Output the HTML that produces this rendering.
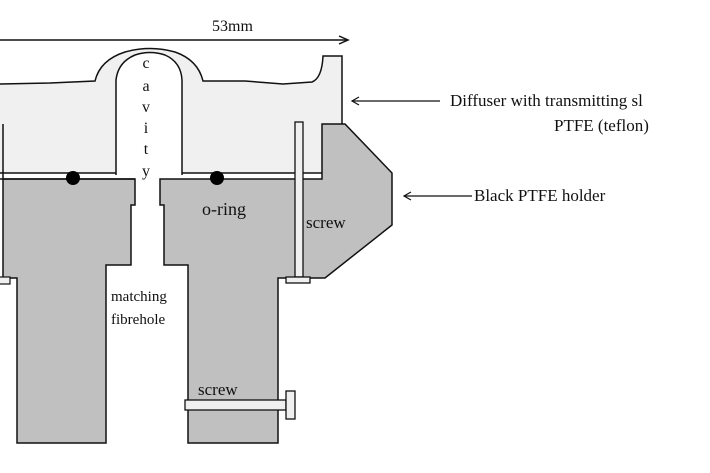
<!DOCTYPE html>
<html><head><meta charset="utf-8"><style>
html,body{margin:0;padding:0;background:#fff;}
svg{display:block;}
text{font-family:"Liberation Serif",serif;fill:#111;}
</style></head><body>
<svg width="710" height="473" viewBox="0 0 710 473" xmlns="http://www.w3.org/2000/svg">
<!-- dimension arrow -->
<line x1="0" y1="40" x2="347" y2="40" stroke="#111" stroke-width="1.5"/>
<polyline points="339,36 348,40 339,44" fill="none" stroke="#111" stroke-width="1.5"/>
<text x="212" y="31" font-size="16">53mm</text>

<!-- diffuser -->
<path d="M0,84 L50,83 L95,81 Q100,60 125,52 Q150,45 175,52 Q198,60 203,81 L245,81 L283,84 L312,82 Q322,78 323,56 L342,56 L342,124 L322,124 L322,173 L182,173 L182,80 Q180,60 165,55 Q150,50 135,55 Q120,60 116,80 L116,173 L0,173 Z" fill="#f0f0f0" stroke="none"/>
<path d="M0,84 L50,83 L95,81 Q100,60 125,52 Q150,45 175,52 Q198,60 203,81 L245,81 L283,84 L312,82 Q322,78 323,56 L342,56 L342,124" fill="none" stroke="#111" stroke-width="1.5"/>
<path d="M116,175 L116,80 Q118,62 135,55 Q150,50 165,55 Q181,62 182,80 L182,175" fill="none" stroke="#111" stroke-width="1.5"/>
<!-- joint lines -->
<line x1="0" y1="173" x2="116" y2="173" stroke="#111" stroke-width="1.5"/>
<line x1="182" y1="173" x2="322" y2="173" stroke="#111" stroke-width="1.5"/>

<!-- left holder -->
<path d="M3,124 L3,179 L135,179 L135,205 L131,205 L131,265 L106,265 L106,443 L17,443 L17,278 L3,278 Z" fill="#c0c0c0" stroke="#111" stroke-width="1.5"/>
<rect x="-2" y="277" width="12" height="7" fill="#f0f0f0" stroke="#111" stroke-width="1.2"/>
<line x1="0" y1="179" x2="135" y2="179" stroke="#111" stroke-width="1.5"/>

<!-- right holder -->
<path d="M160,179 L322,179 L322,124 L345,124 L392,173 L392,225 L325,278 L278,278 L278,443 L188,443 L188,265 L164,265 L164,205 L160,205 Z" fill="#c0c0c0" stroke="#111" stroke-width="1.5"/>

<!-- vertical screw -->
<rect x="295" y="122" width="8" height="155" fill="#f0f0f0" stroke="#111" stroke-width="1.3"/>
<rect x="286" y="277" width="24" height="6" fill="#f0f0f0" stroke="#111" stroke-width="1.3"/>
<!-- bottom screw -->
<rect x="185" y="400" width="101" height="10" fill="#f0f0f0" stroke="#111" stroke-width="1.3"/>
<rect x="286" y="391" width="9" height="28" fill="#f0f0f0" stroke="#111" stroke-width="1.3"/>

<!-- o-rings -->
<circle cx="73" cy="178" r="7" fill="#000"/>
<circle cx="217" cy="178" r="7" fill="#000"/>

<!-- cavity letters -->
<g font-size="16" text-anchor="middle">
<text x="146" y="68">c</text>
<text x="146" y="91">a</text>
<text x="146" y="112">v</text>
<text x="146" y="133">i</text>
<text x="146" y="154">t</text>
<text x="146" y="176">y</text>
</g>
<text x="202" y="215" font-size="18">o-ring</text>
<text x="306" y="228" font-size="17">screw</text>
<text x="198" y="395" font-size="17">screw</text>
<text x="111" y="301" font-size="15">matching</text>
<text x="111" y="324" font-size="15">fibrehole</text>

<!-- right labels -->
<line x1="352" y1="101" x2="440" y2="101" stroke="#111" stroke-width="1.2"/>
<polyline points="359,97 352,101 359,105" fill="none" stroke="#111" stroke-width="1.2"/>
<text x="450" y="106" font-size="17">Diffuser with transmitting sl</text>
<text x="554" y="131" font-size="17">PTFE (teflon)</text>
<line x1="404" y1="196" x2="472" y2="196" stroke="#111" stroke-width="1.2"/>
<polyline points="411,192 404,196 411,200" fill="none" stroke="#111" stroke-width="1.2"/>
<text x="474" y="201" font-size="17">Black PTFE holder</text>
</svg>
</body></html>
